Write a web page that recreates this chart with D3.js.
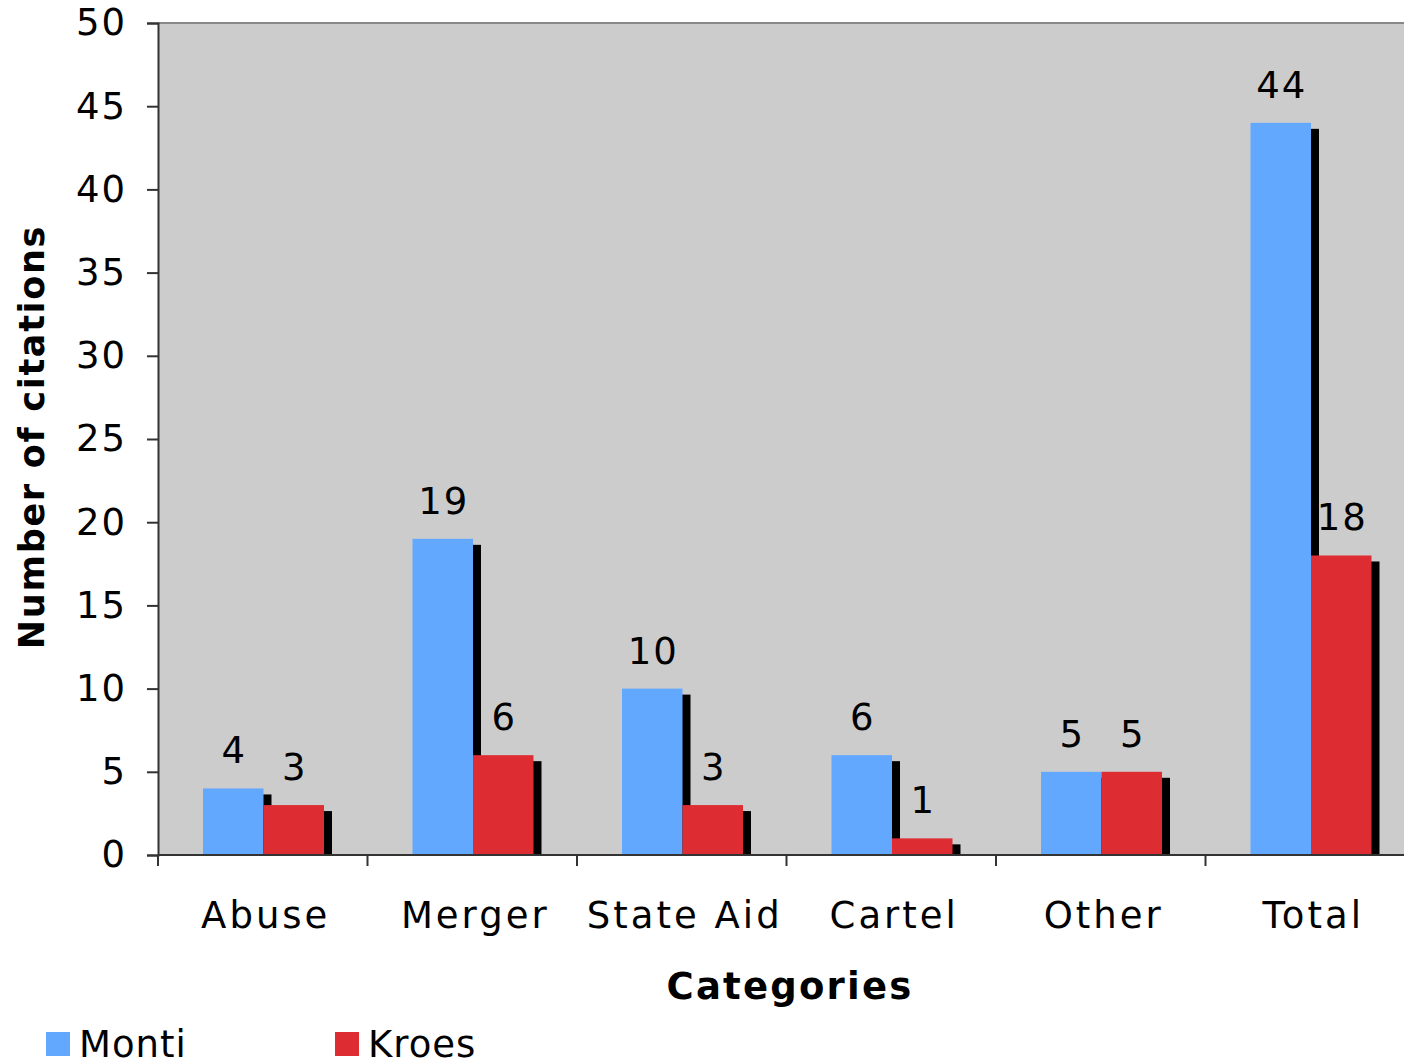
<!DOCTYPE html>
<html>
<head>
<meta charset="utf-8">
<script src="https://cdn.jsdelivr.net/npm/d3@7"></script>
<style>
  body { margin: 0; background: #fff; }
  text { font-family: "DejaVu Sans", Verdana, sans-serif; fill: #000; }
</style>
</head>
<body>
<script>
const categories = ['Abuse', 'Merger', 'State Aid', 'Cartel', 'Other', 'Total'];
const series = ['Monti', 'Kroes'];
const monti = [4, 19, 10, 6, 5, 44];
const kroes = [3, 6, 3, 1, 5, 18];
const yTicks = [0, 5, 10, 15, 20, 25, 30, 35, 40, 45, 50];
const colors = { Monti: '#63a8ff', Kroes: '#de2c33' };

const width = 1404;
const height = 1059;
const plot = { left: 158, top: 23, bottom: 855, band: 209.5 };

const svg = d3.select('body').append('svg')
  .attr('width', width)
  .attr('height', height);

const x0 = d3.scaleBand()
  .domain(categories)
  .range([plot.left, plot.left + plot.band * categories.length]);

const x1 = d3.scaleBand()
  .domain(series)
  .range([45, 166]);

const y = d3.scaleLinear()
  .domain([0, 50])
  .range([plot.bottom, plot.top]);

// plot background
svg.append('rect')
  .attr('x', plot.left)
  .attr('y', plot.top)
  .attr('width', plot.band * categories.length)
  .attr('height', plot.bottom - plot.top)
  .attr('fill', '#cccccc');
svg.append('line')
  .attr('x1', plot.left).attr('x2', width)
  .attr('y1', plot.top).attr('y2', plot.top)
  .attr('stroke', '#888').attr('stroke-width', 2);

const rows = categories.map((c, i) => ({
  cat: c,
  values: [{ key: 'Monti', v: monti[i] }, { key: 'Kroes', v: kroes[i] }],
}));

const groups = svg.selectAll('g.cat').data(rows)
  .enter().append('g')
    .attr('class', 'cat')
    .attr('transform', d => `translate(${x0(d.cat)},0)`);

groups.each(function (d) {
  const g = d3.select(this);
  d.values.forEach(s => {
    // shadow
    g.append('rect')
      .attr('x', x1(s.key) + 8)
      .attr('y', y(s.v) + 6)
      .attr('width', x1.bandwidth())
      .attr('height', Math.max(0, plot.bottom - y(s.v) - 6))
      .attr('fill', '#000');
    g.append('rect')
      .attr('x', x1(s.key))
      .attr('y', y(s.v))
      .attr('width', x1.bandwidth())
      .attr('height', plot.bottom - y(s.v))
      .attr('fill', colors[s.key]);
  });
  d.values.forEach(s => {
    g.append('text')
      .attr('x', x1(s.key) + x1.bandwidth() / 2 + 1)
      .attr('y', y(s.v) - 25)
      .attr('text-anchor', 'middle')
      .style('font-size', '37px')
      .style('letter-spacing', '2px')
      .text(s.v);
  });
});

// y axis
const yAxis = svg.append('g')
  .attr('transform', `translate(${plot.left},0)`)
  .call(d3.axisLeft(y).tickValues(yTicks).tickSize(11).tickPadding(20));
yAxis.select('.domain').attr('stroke', '#333').attr('stroke-width', 2);
yAxis.selectAll('.tick line').attr('stroke', '#333').attr('stroke-width', 2);
yAxis.selectAll('.tick text')
  .style('font-size', '37px')
  .style('letter-spacing', '2px')
  .style('font-family', '"DejaVu Sans", Verdana, sans-serif')
  .attr('fill', '#000');

// x axis
const xAxis = svg.append('g')
  .attr('transform', `translate(0,${plot.bottom})`);
xAxis.append('line')
  .attr('x1', plot.left).attr('x2', width)
  .attr('stroke', '#333').attr('stroke-width', 2);
xAxis.selectAll('line.tk').data(categories)
  .enter().append('line')
    .attr('class', 'tk')
    .attr('x1', d => x0(d)).attr('x2', d => x0(d))
    .attr('y1', 0).attr('y2', 11)
    .attr('stroke', '#333').attr('stroke-width', 2);
xAxis.selectAll('text').data(categories)
  .enter().append('text')
    .attr('x', d => x0(d) + x0.bandwidth() / 2 + 3)
    .attr('y', 73)
    .attr('text-anchor', 'middle')
    .style('font-size', '37px')
    .style('letter-spacing', '3px')
    .text(d => d);

// axis titles
svg.append('text')
  .attr('x', 790).attr('y', 999)
  .attr('text-anchor', 'middle')
  .style('font-size', '37px')
  .style('font-weight', 'bold')
  .style('letter-spacing', '2.2px')
  .text('Categories');

svg.append('text')
  .attr('transform', 'translate(44,437) rotate(-90)')
  .attr('text-anchor', 'middle')
  .style('font-size', '35px')
  .style('font-weight', 'bold')
  .style('letter-spacing', '1.7px')
  .text('Number of citations');

// legend
const legendX = [46, 335];
const legend = svg.selectAll('g.legend').data(series)
  .enter().append('g')
    .attr('class', 'legend')
    .attr('transform', (d, i) => `translate(${legendX[i]},1032)`);
legend.append('rect')
  .attr('width', 24).attr('height', 24)
  .attr('fill', d => colors[d]);
legend.append('text')
  .attr('x', 33).attr('y', 25)
  .style('font-size', '37px')
  .style('letter-spacing', '1px')
  .text(d => d);
</script>
</body>
</html>
